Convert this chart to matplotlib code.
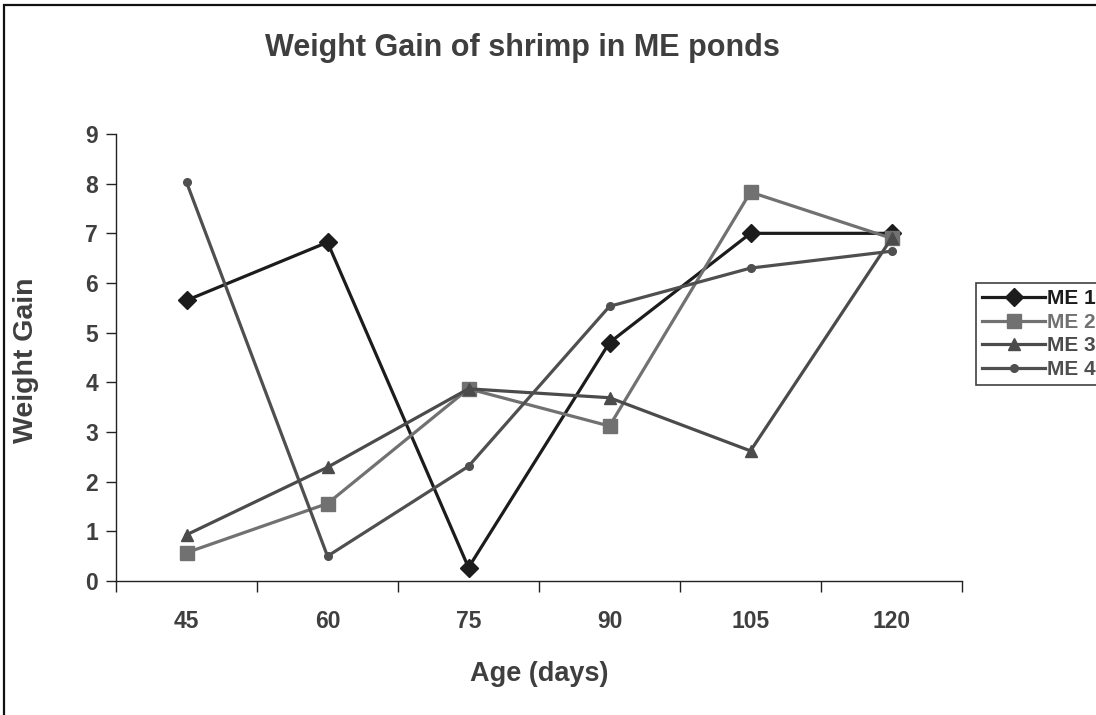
import matplotlib
matplotlib.use("Agg")
import matplotlib.pyplot as plt
from matplotlib.patches import Rectangle

plt.rcParams['font.family'] = ['Liberation Sans', 'DejaVu Sans']
plt.rcParams['font.weight'] = 'bold'

# data
ages = ['45', '60', '75', '90', '105', '120']
me1 = [5.65, 6.82, 0.27, 4.80, 7.00, 7.00]
me2 = [0.57, 1.56, 3.87, 3.12, 7.83, 6.90]
me3 = [0.93, 2.29, 3.87, 3.69, 2.62, 6.90]
me4 = [8.03, 0.50, 2.31, 5.53, 6.30, 6.64]
names = ['ME 1', 'ME 2', 'ME 3', 'ME 4']

styles = [('#1c1c1c', 'D', 9), ('#717171', 's', 10), ('#4b4b4b', '^', 8), ('#4f4f4f', 'o', 5.5)]
txt = '#3f3f3f'

fig = plt.figure(figsize=(10.96, 7.15), dpi=100)
ax = fig.add_axes([116/1096, 1-581/715, (962-116)/1096, (581-134)/715])

x = list(range(len(ages)))
for s, name, (c, m, ms) in zip([me1, me2, me3, me4], names, styles):
    ax.plot(x, s, color=c, marker=m, markersize=ms, linewidth=2.3, label=name,
            markeredgecolor=c, markerfacecolor=c, clip_on=False, zorder=3)

ax.set_xlim(-0.5, len(ages)-0.5)
ax.set_ylim(0, 9)
ax.set_yticks(range(10))
ax.tick_params(axis='y', direction='out', length=7, width=1, colors='#222222',
               labelsize=16.5, pad=6, labelcolor=txt)
ax.set_xticks([i-0.5 for i in range(len(ages)+1)])
ax.set_xticklabels([])
ax.set_xticks(x, minor=True)
ax.set_xticklabels(ages, minor=True)
ax.tick_params(axis='x', which='major', direction='out', length=8, width=1, colors='#222222')
ax.tick_params(axis='x', which='minor', length=0, labelsize=16.5, pad=21, labelcolor=txt)
for lab in ax.get_yticklabels() + ax.get_xticklabels(minor=True):
    lab.set_fontweight('bold')

for sp in ['top', 'right']:
    ax.spines[sp].set_visible(False)
for sp in ['left', 'bottom']:
    ax.spines[sp].set_color('#222222')
    ax.spines[sp].set_linewidth(1)

fig.text(522/1096, 1-48/715, 'Weight Gain of shrimp in ME ponds', ha='center', va='center',
         fontsize=22, fontweight='bold', color=txt)
fig.text(539/1096, 1-674/715, 'Age (days)', ha='center', va='center',
         fontsize=19.5, fontweight='bold', color=txt)
fig.text(26/1096, 1-360/715, 'Weight Gain', ha='center', va='center', rotation=90,
         fontsize=20.5, fontweight='bold', color=txt)

# outer chart border (runs off the right and bottom)
fig.patches.append(Rectangle((4/1096, -0.2), 1.5, 1.2 - 5/715, transform=fig.transFigure,
                             fill=False, edgecolor='#111111', linewidth=1.6))

leg = fig.legend(loc='upper left', bbox_to_anchor=(976/1096, 1-283/715), frameon=True,
                 fancybox=False, edgecolor='#111111', handlelength=3.0, handletextpad=0.1,
                 labelspacing=0.22, borderpad=0.3, borderaxespad=0,
                 prop={'size': 15, 'weight': 'bold'})
leg.get_frame().set_linewidth(1.2)
for t, (c, m, ms) in zip(leg.get_texts(), styles):
    t.set_color(c)

fig.savefig('out.png', dpi=100)
